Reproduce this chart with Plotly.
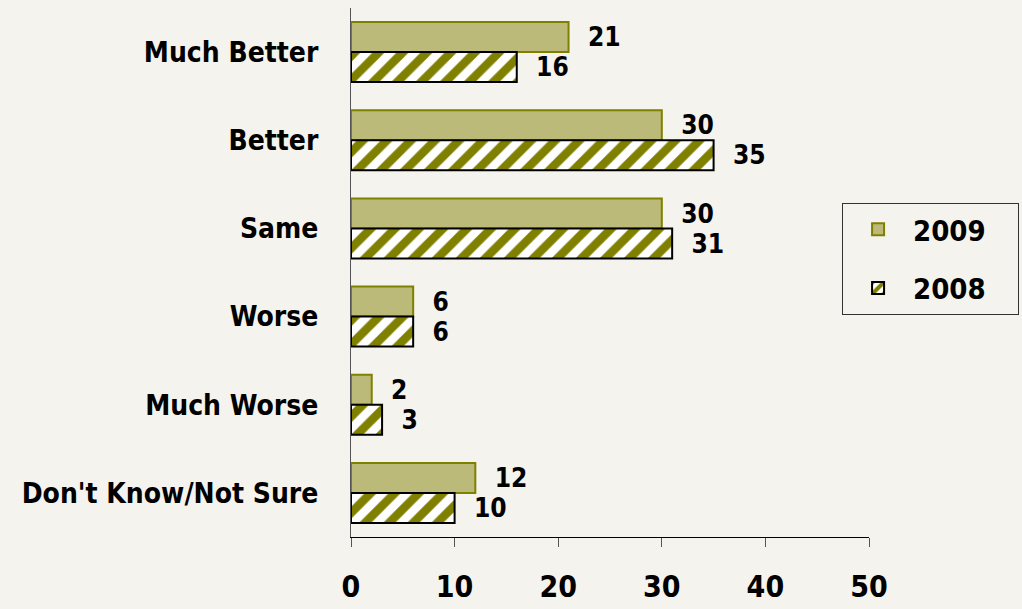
import plotly.graph_objects as go

categories = ["Much Better", "Better", "Same", "Worse", "Much Worse", "Don't Know/Not Sure"]
values_2009 = [21, 30, 30, 6, 2, 12]
values_2008 = [16, 35, 31, 6, 3, 10]
x_ticks = [0, 10, 20, 30, 40, 50]
series_names = ["2009", "2008"]

BG = "#F4F3EE"
FONT = "DejaVu Sans Condensed, Liberation Sans Narrow, Arial Narrow, Liberation Sans, sans-serif"
PAD = "\u00a0\u00a0\u00a0"

fig = go.Figure()
fig.add_trace(go.Bar(
    name=series_names[0] + PAD, y=categories, x=values_2009, orientation="h", legendgroup="a",
    marker=dict(color="#BBBA78", line=dict(color="#808000", width=2)),
    text=values_2009, texttemplate="  %{x}", textposition="outside",
    textfont=dict(size=27, color="black", family=FONT, weight="bold"),
    cliponaxis=False,
))
fig.add_trace(go.Bar(
    name=series_names[1] + PAD, y=categories, x=values_2008, orientation="h", legendgroup="b",
    marker=dict(color="white", line=dict(color="black", width=2),
                pattern=dict(shape="/", fgcolor="#808000", bgcolor="white",
                             fgopacity=1, size=17, solidity=0.5)),
    text=values_2008, texttemplate="  %{x}", textposition="outside",
    textfont=dict(size=27, color="black", family=FONT, weight="bold"),
    cliponaxis=False,
))

fig.update_layout(
    width=1022, height=609,
    paper_bgcolor=BG, plot_bgcolor=BG,
    barmode="group", bargap=0.32, bargroupgap=0,
    margin=dict(l=351, r=153, t=8, b=72, autoexpand=False),
    font=dict(family=FONT, size=27, color="black", weight="bold"),
    legend=dict(
        x=0.948, y=0.6314, xanchor="left", yanchor="top",
        bgcolor=BG, bordercolor="#333333", borderwidth=1,
        font=dict(size=29, family=FONT, color="black", weight="bold"),
        itemwidth=60, tracegroupgap=18,
    ),
    xaxis=dict(
        range=[0, 50], tickvals=x_ticks, ticktext=[str(t) for t in x_ticks],
        showgrid=False, zeroline=False, showline=True, linecolor="black", linewidth=1,
        ticks="outside", ticklen=9, tickcolor="#555555", ticklabelstandoff=14,
        tickfont=dict(size=30, family=FONT, weight="bold"), automargin=False,
    ),
    yaxis=dict(
        autorange="reversed", showgrid=False, zeroline=False,
        showline=True, linecolor="#555555", linewidth=1, ticks="",
        ticklabelstandoff=26, automargin=False,
        tickfont=dict(size=28, family=FONT, weight="bold"),
    ),
)

fig.write_html(
    "out.html",
    config={"displayModeBar": False},
    post_script="document.body.style.margin='0px';document.body.style.background='" + BG + "';",
)
